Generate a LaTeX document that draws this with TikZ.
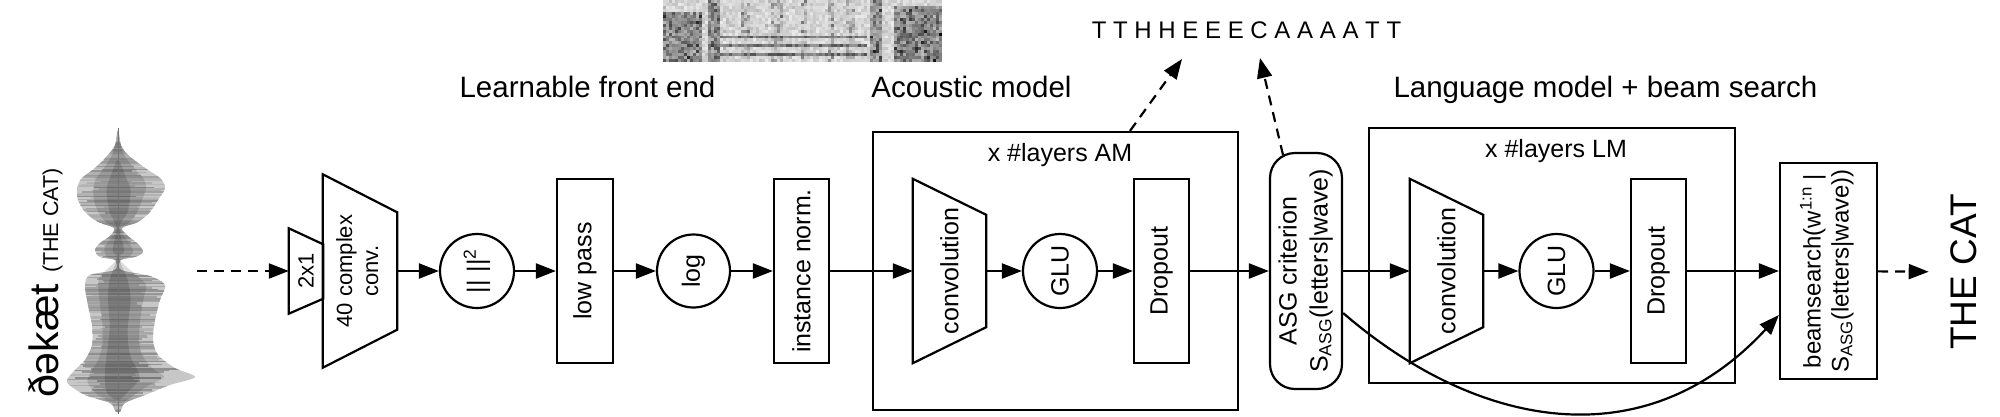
\documentclass[tikz,border=0pt]{standalone}
\usepackage{fontspec}
\setmainfont{Liberation Sans}
\usetikzlibrary{arrows.meta,calc}
\begin{document}
\begin{tikzpicture}[x=1pt,y=-1pt,
  lw/.style={line width=2.2pt},
  blk/.style={draw,line width=2.2pt,inner sep=0pt,font=\fontsize{25}{31}\selectfont},
  trap/.style={inner sep=0pt,font=\fontsize{25}{31}\selectfont},
  circ/.style={draw,circle,line width=2.2pt,inner sep=0pt,font=\fontsize{25}{31}\selectfont},
  arr/.style={line width=2.2pt,-{Triangle[length=20pt,width=15pt]}},
  darr/.style={arr,dash pattern=on 10pt off 7pt},
  title/.style={font=\fontsize{29.5}{35}\selectfont,anchor=base,inner sep=0pt},
  layerlab/.style={font=\fontsize{25}{30}\selectfont,anchor=base,inner sep=0pt},
]
\useasboundingbox (0,0) rectangle (2000,416);

% ---------- waveform ----------
\fill[black!22] plot[smooth cycle] coordinates {
 (118,130) (121,145) (128,155) (145,168) (160,178) (165,188) (158,200) (150,212)
 (138,222) (122,228) (128,236) (138,244) (143,252) (135,257) (121,260) (121,270)
 (150,276) (165,285) (160,300) (155,320) (153,340) (158,355) (175,368) (195,377)
 (170,385) (145,395) (125,403) (120,412)
 (116,412) (110,403) (85,395) (67,382) (75,370) (85,360) (92,345) (92,325)
 (88,305) (85,285) (90,275) (115,270) (115,260) (100,257) (95,250) (100,243)
 (110,236) (114,228) (98,222) (85,212) (78,200) (77,188) (82,178) (95,168)
 (108,155) (115,145)};
\begin{scope}
\clip plot[smooth cycle] coordinates {
 (118,130) (121,145) (128,155) (145,168) (160,178) (165,188) (158,200) (150,212)
 (138,222) (122,228) (128,236) (138,244) (143,252) (135,257) (121,260) (121,270)
 (150,276) (165,285) (160,300) (155,320) (153,340) (158,355) (175,368) (195,377)
 (170,385) (145,395) (125,403) (120,412)
 (116,412) (110,403) (85,395) (67,382) (75,370) (85,360) (92,345) (92,325)
 (88,305) (85,285) (90,275) (115,270) (115,260) (100,257) (95,250) (100,243)
 (110,236) (114,228) (98,222) (85,212) (78,200) (77,188) (82,178) (95,168)
 (108,155) (115,145)};
\pgfmathsetseed{7}
\foreach \k in {0,...,188} {
  \pgfmathsetmacro\yy{129+1.5*\k}
  \pgfmathtruncatemacro\g{28+18*rnd}
  \pgfmathsetmacro\a{118-12-50*rnd}
  \pgfmathsetmacro\b{118+12+65*rnd}
  \draw[black!\g,line width=1.5pt] (\a,\yy) -- (\b,\yy);
}
\end{scope}
\begin{scope}[shift={(118,0)},xscale=0.6,shift={(-118,0)}]
\fill[black,opacity=0.13] plot[smooth cycle] coordinates {
 (118,140) (128,155) (145,168) (160,178) (165,188) (158,200) (150,212)
 (138,222) (122,228) (128,236) (138,244) (143,252) (135,257) (121,260)
 (150,276) (165,285) (160,300) (155,320) (153,340) (158,355) (175,368) (195,377)
 (170,385) (145,395) (125,403)
 (110,403) (85,395) (67,382) (75,370) (85,360) (92,345) (92,325)
 (88,305) (85,285) (90,275) (115,260) (100,257) (95,250) (100,243)
 (110,236) (114,228) (98,222) (85,212) (78,200) (77,188) (82,178) (95,168)
 (108,155)};
\end{scope}
\begin{scope}[shift={(118,0)},xscale=0.3,shift={(-118,0)}]
\fill[black,opacity=0.15] plot[smooth cycle] coordinates {
 (118,160) (145,178) (160,190) (150,212) (122,226)
 (135,245) (138,252) (121,258)
 (150,280) (160,300) (150,330) (158,355) (190,377)
 (150,392) (118,400)
 (80,392) (75,370) (90,330) (85,300) (90,280)
 (115,258) (100,250) (114,228) (90,212) (80,190) (95,175)};
\end{scope}
\draw[black!55,line width=1pt] (118,128) -- (118,414);
\node[anchor=base west,rotate=90,inner sep=0pt] (phon) at (58,398)
  {{\fontsize{41}{48}\selectfont ðəkæt}\hspace{11pt}{\fontsize{21.5}{25}\selectfont (THE CAT)}};

% ---------- spectrogram ----------
\pgfmathsetseed{3}
\foreach \i in {0,...,92} {
  \foreach \j in {0,...,20} {
    \pgfmathsetmacro\xx{663+3*\i}
    \pgfmathsetmacro\yy{2.96*\j}
    \pgfmathtruncatemacro\dk{(((\xx<702)&&(\j>3))||((\xx>705)&&(\xx<718))||((\xx>867)&&(\xx<880))||((\xx>892)&&(\j>1))) ? 1 : 0}
    \pgfmathtruncatemacro\vs{(((\xx>738)&&(\xx<748))||((\xx>768)&&(\xx<781))||((\xx>799)&&(\xx<806))||((\xx>826)&&(\xx<834))||((\xx>845)&&(\xx<853))) ? 1 : 0}
    \pgfmathtruncatemacro\hb{((\j>9)&&(mod(\j,3)==0)&&(\xx>718)&&(\xx<866)) ? 1 : 0}
    \pgfmathtruncatemacro\s{\dk==1 ? 25+55*rnd*rnd+20*rnd : (\hb==1 ? 40+30*rnd : (\vs==1 ? 15+50*rnd*rnd : 8+14*rnd+18*rnd*rnd*rnd))}
    \fill[black!\s] (\xx,\yy) rectangle (\xx+3.2,\yy+3.1);
  }
}

% ---------- titles ----------
\node[title] (t1) at (587.5,97) {Learnable front end};
\node[title] (t2) at (971.5,97) {Acoustic model};
\node[title] (t3) at (1605.5,97) {Language model + beam search};
\node[font=\fontsize{24}{28}\selectfont,anchor=base,inner sep=0pt] (seq) at (1246.5,38)
  {T T H H E E E C A A A A T T};

% ---------- front end ----------
\coordinate (wv) at (197,271);
\node[trap,minimum width=34pt,minimum height=85pt,font=\fontsize{22}{26}\selectfont] (s21) at (306,271) {\rotatebox{90}{2x1}};
\draw[lw] (s21.north west) -- ([yshift=-16pt]s21.north east) -- ([yshift=15pt]s21.south east) -- (s21.south west) -- cycle;
\node[trap,minimum width=74pt,minimum height=193pt,font=\fontsize{22}{26}\selectfont] (c40) at (360,271)
  {\rotatebox{90}{\begin{tabular}{@{}c@{}}40 complex\\conv.\end{tabular}}};
\draw[lw] (c40.north west) -- ([yshift=-38pt]c40.north east) -- ([yshift=38pt]c40.south east) -- (c40.south west) -- cycle;
\node[circ,minimum size=74pt] (sq) at (477,271) {\rotatebox{90}{||\hspace{8pt}||\textsuperscript{2}}};
\node[blk,minimum width=56pt,minimum height=184pt] (lp) at (585,271) {\rotatebox{90}{low pass}};
\node[circ,minimum size=73pt] (lg) at (693.5,271) {\rotatebox{90}{log}};
\node[blk,minimum width=55pt,minimum height=184pt] (inorm) at (801.5,271) {\rotatebox{90}{instance norm.}};

% ---------- acoustic model ----------
\node[draw,lw,minimum width=365pt,minimum height=278pt,inner sep=0pt] (am) at (1055.5,271) {};
\node[layerlab] (amlab) at (1060,161) {x \#layers AM};
\node[trap,minimum width=73pt,minimum height=184pt] (amconv) at (949.5,271) {\rotatebox{90}{convolution}};
\draw[lw] (amconv.north west) -- ([yshift=-36pt]amconv.north east) -- ([yshift=36pt]amconv.south east) -- (amconv.south west) -- cycle;
\node[circ,minimum size=74pt] (amglu) at (1060,271) {\rotatebox{90}{GLU}};
\node[blk,minimum width=55pt,minimum height=184pt] (amdrop) at (1161.5,271) {\rotatebox{90}{Dropout}};

\node[blk,rounded corners=25pt,minimum width=72pt,minimum height=236pt] (asg) at (1306,271)
  {\rotatebox{90}{\begin{tabular}{@{}c@{}}ASG criterion\\S\textsubscript{ASG}(letters|wave)\end{tabular}}};

% ---------- language model ----------
\node[draw,lw,minimum width=366pt,minimum height=255pt,inner sep=0pt] (lm) at (1552,255.5) {};
\node[layerlab] (lmlab) at (1556,157) {x \#layers LM};
\node[trap,minimum width=73pt,minimum height=184pt] (lmconv) at (1446.5,271) {\rotatebox{90}{convolution}};
\draw[lw] (lmconv.north west) -- ([yshift=-36pt]lmconv.north east) -- ([yshift=36pt]lmconv.south east) -- (lmconv.south west) -- cycle;
\node[circ,minimum size=74pt] (lmglu) at (1556.5,271) {\rotatebox{90}{GLU}};
\node[blk,minimum width=55pt,minimum height=184pt] (lmdrop) at (1658.5,271) {\rotatebox{90}{Dropout}};

\node[blk,minimum width=97pt,minimum height=216pt,font=\fontsize{24}{28}\selectfont] (beam) at (1828.5,271)
  {\rotatebox{90}{\begin{tabular}{@{}c@{}}beamsearch(w\textsuperscript{1:n} |\\S\textsubscript{ASG}(letters|wave))\end{tabular}}};
\node[inner xsep=22pt,inner ysep=0pt,font=\fontsize{37}{44}\selectfont] (thecat) at (1964,272) {\rotatebox{90}{THE CAT}};

% ---------- connectors ----------
\draw[darr] (wv) -- (s21);
\draw[arr] (c40) -- (sq);
\draw[arr] (sq) -- (lp);
\draw[arr] (lp) -- (lg);
\draw[arr] (lg) -- (inorm);
\draw[arr] (inorm) -- (amconv);
\draw[arr] (amconv) -- (amglu);
\draw[arr] (amglu) -- (amdrop);
\draw[arr] (amdrop) -- (asg);
\draw[arr] (asg) -- (lmconv);
\draw[arr] (lmconv) -- (lmglu);
\draw[arr] (lmglu) -- (lmdrop);
\draw[arr] (lmdrop) -- (beam);
\draw[darr] (beam) -- (thecat);
\coordinate (seqa) at (1182,59);
\coordinate (seqb) at (1260,58);
\draw[darr] ([xshift=74.5pt]am.north) -- (seqa);
\draw[darr] ([xshift=-23pt,yshift=-3pt]asg.north) -- (seqb);
\draw[arr] ([yshift=-42pt]asg.east) .. controls (1476,428) and (1644,461) .. ([yshift=-44pt]beam.west);
\end{tikzpicture}
\end{document}
